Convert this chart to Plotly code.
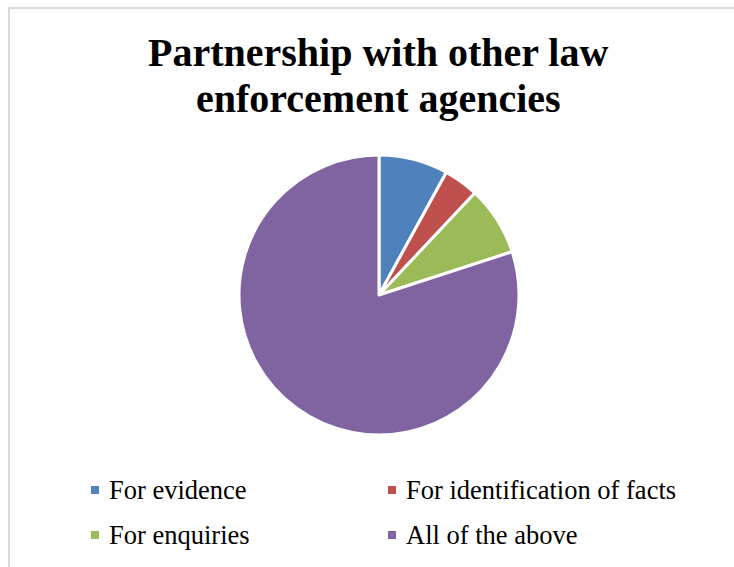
import plotly.graph_objects as go

labels = ["For evidence", "For identification of facts", "For enquiries", "All of the above"]
values = [8, 4, 8, 80]
colors = ["#4F81BD", "#C0504D", "#9BBB59", "#8064A2"]
title_lines = ["Partnership with other law", "enforcement agencies"]

W, H = 734, 567
cx, cy, r = 379, 295, 140
SERIF = "Times New Roman, Liberation Serif, serif"

fig = go.Figure(go.Pie(
    labels=labels, values=values, sort=False, direction="clockwise", rotation=0,
    marker=dict(colors=colors, line=dict(color="white", width=3)),
    textinfo="none", hoverinfo="label+percent", showlegend=False,
    domain=dict(x=[(cx - r) / W, (cx + r) / W], y=[1 - (cy + r) / H, 1 - (cy - r) / H]),
))

annotations = []
shapes = [dict(type="rect", xref="paper", yref="paper",
               x0=9 / W, x1=1.1, y0=-0.1, y1=1 - 8 / H,
               line=dict(color="#D9D9D9", width=2), fillcolor="rgba(0,0,0,0)")]

# title
for i, line in enumerate(title_lines):
    annotations.append(dict(
        text=line, xref="paper", yref="paper", x=378 / W, y=1 - (53 + 45 * i) / H,
        xanchor="center", yanchor="middle", showarrow=False,
        font=dict(family=SERIF, size=40, color="black", weight="bold"),
    ))

# legend (2 columns)
col_x = [95, 392]
row_y = [490, 535]
msz = 8
for i, (lab, col) in enumerate(zip(labels, colors)):
    mx, my = col_x[i % 2], row_y[i // 2]
    shapes.append(dict(type="rect", xref="paper", yref="paper",
                       x0=(mx - msz / 2) / W, x1=(mx + msz / 2) / W,
                       y0=1 - (my + msz / 2) / H, y1=1 - (my - msz / 2) / H,
                       line=dict(width=0), fillcolor=col))
    annotations.append(dict(
        text=lab, xref="paper", yref="paper", x=(mx + 12) / W, y=1 - my / H,
        xanchor="left", yanchor="middle", showarrow=False,
        font=dict(family=SERIF, size=26.5, color="black", weight="normal", style="normal"),
    ))

fig.update_layout(
    width=W, height=H,
    font=dict(family=SERIF),
    margin=dict(l=0, r=0, t=0, b=0, autoexpand=False),
    paper_bgcolor="white",
    showlegend=False,
    annotations=annotations,
    shapes=shapes,
)

fig.write_html("out.html")
